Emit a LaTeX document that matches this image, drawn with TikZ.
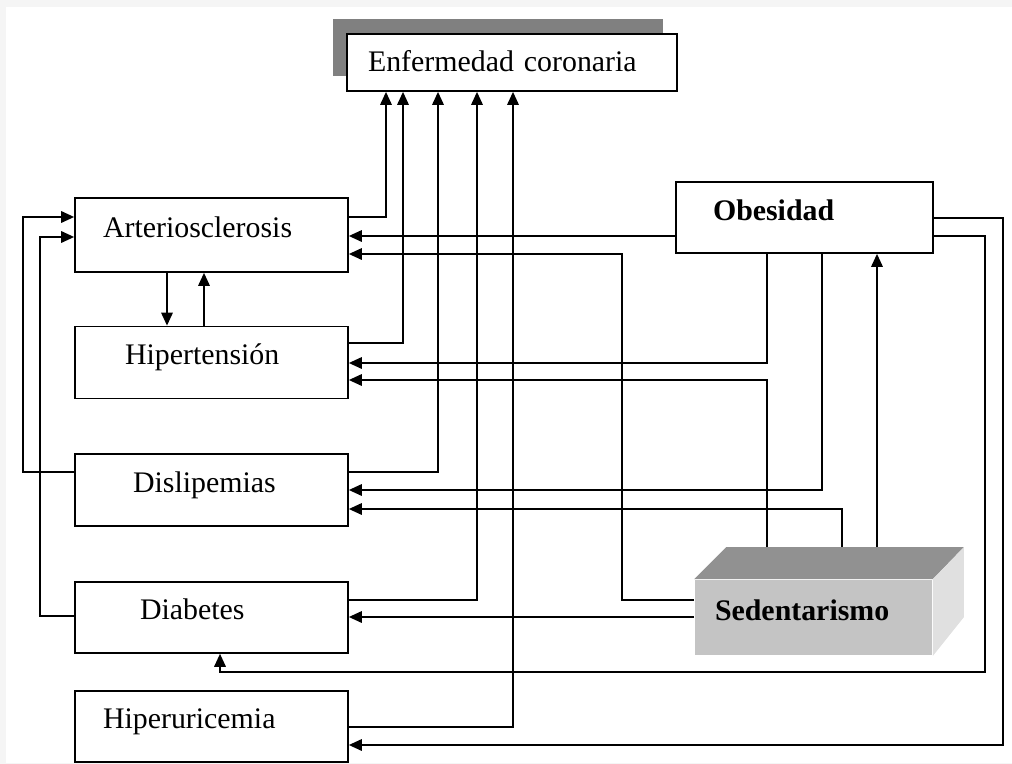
\documentclass[tikz,border=0pt]{standalone}
\usepackage{fontspec}
\setmainfont{Liberation Serif}
\usetikzlibrary{arrows.meta,shadows}

\begin{document}
\begin{tikzpicture}[x=0.02cm, y=-0.02cm, line width=1pt, >={Triangle[length=0.26cm,width=0.23cm]},
  node distance=2.55cm,
  every node/.style={font=\fontsize{17}{20}\selectfont},
  caja/.style={rectangle, draw, line width=1pt, align=left, minimum height=1.44cm, text height=0.3cm, text depth=0.2cm},
  columna/.style={caja, text width=#1},
  cubo/.style={rectangle, fill=black!23, align=left, minimum height=1.5cm, text height=0.3cm, text depth=0.2cm}]
\useasboundingbox (0,0) rectangle (1012,764);
\fill[black!4] (0,0) rectangle (1012,764);
\fill[white] (6,7) rectangle (1012,763);

% cuadros
\node[caja, text width=5.76cm, inner xsep=0.42cm, minimum height=1.14cm, text height=0.5cm, text depth=0.12cm,
  fill=white, drop shadow={shadow xshift=-0.28cm, shadow yshift=0.3cm, fill=black!50, opacity=1}] (enf) at (512,62.5) {Enfermedad coronaria};
\node[columna=4.34cm, inner xsep=0.56cm, minimum height=1.48cm] (art) at (211.5,235) {Arteriosclerosis};
\node[columna=3.46cm, inner xsep=1.0cm] (hip) [below of=art] {Hipertensión};
\node[columna=3.14cm, inner xsep=1.16cm] (dis) [below of=hip] {Dislipemias};
\node[columna=2.86cm, inner xsep=1.3cm, minimum height=1.42cm] (dia) [below of=dis] {Diabetes};
\node[columna=4.34cm, inner xsep=0.56cm, minimum height=1.42cm] (hiu) [below of=dia, node distance=2.18cm] {Hiperuricemia};
\node[caja, text width=3.66cm, inner xsep=0.74cm, minimum height=1.42cm] (obe) at (804.5,217.5) {\textbf{Obesidad}};
\node[cubo, text width=3.94cm, inner xsep=0.4cm] (sed) at (813.5,617.5) {\textbf{Sedentarismo}};

% caras del cubo
\fill[black!43] (sed.north west) -- ([shift={(32,-32)}]sed.north west) -- ([shift={(31,-32)}]sed.north east) -- (sed.north east) -- cycle;
\fill[black!12] (sed.north east) -- ([shift={(31,-32)}]sed.north east) -- ([shift={(31,38)}]sed.north east) -- (sed.south east) -- cycle;
\coordinate (sedtop) at ([yshift=0.64cm]sed.north);

% hacia enfermedad coronaria
\draw[->] (art.east |- 0,217) -| (386,0 |- enf.south);
\draw[->] (hip.east |- 0,343) -| (403,0 |- enf.south);
\draw[->] (dis.east |- 0,472) -| (438,0 |- enf.south);
\draw[->] (dia.east |- 0,600) -| (477,0 |- enf.south);
\draw[->] (hiu.east |- 0,727) -| (513,0 |- enf.south);

% columna izquierda
\draw[->] (167,0 |- art.south) -- (167,0 |- hip.north);
\draw[->] (204,0 |- hip.north) -- (204,0 |- art.south);
\draw[->] (dis.west |- 0,472) -| (23,217) -- (art.west |- 0,217);
\draw[->] (dia.west |- 0,616) -| (40,237) -- (art.west |- 0,237);

% desde obesidad y sedentarismo
\draw[->] (obe.west |- 0,236) -- (art.east |- 0,236);
\draw[->] (sed.west |- 0,600) -| (622,254) -- (art.east |- 0,254);
\draw[->] (767,0 |- obe.south) |- (hip.east |- 0,363);
\draw[->] (767,0 |- sedtop) |- (hip.east |- 0,380);
\draw[->] (822,0 |- obe.south) |- (dis.east |- 0,490);
\draw[->] (842,0 |- sedtop) |- (dis.east |- 0,509);
\draw[->] (877,0 |- sedtop) -- (877,0 |- obe.south);
\draw[->] (sed.west |- 0,617) -- (dia.east |- 0,617);
\draw[->] (obe.east |- 0,236) -| (985,672) -| (220,0 |- dia.south);
\draw[->] (obe.east |- 0,218) -| (1003,745) -- (hiu.east |- 0,745);
\end{tikzpicture}
\end{document}
